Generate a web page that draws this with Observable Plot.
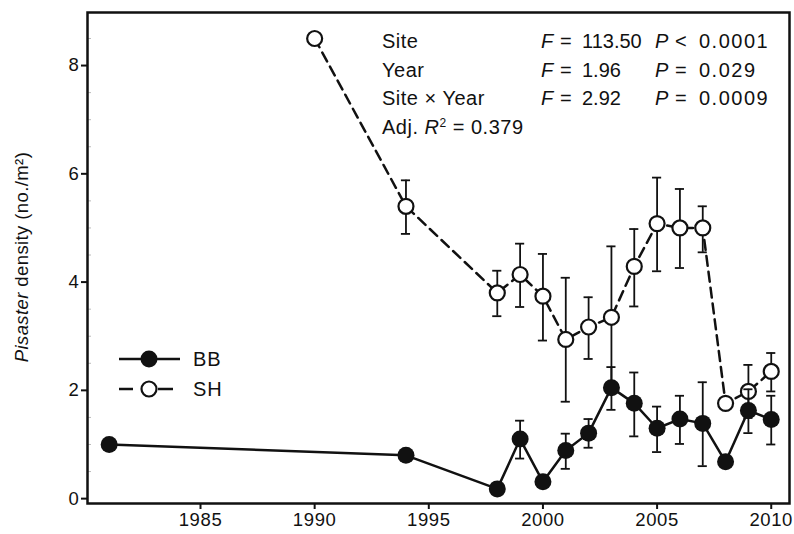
<!DOCTYPE html>
<html><head><meta charset="utf-8">
<script src="https://cdn.jsdelivr.net/npm/d3@7"></script>
<script src="https://cdn.jsdelivr.net/npm/@observablehq/plot@0.6"></script>
<style>
body{margin:0;background:#fff;}
#chart{position:relative;width:794px;height:534px;}
#chart svg{font-family:"Liberation Sans",Arial,sans-serif;}
</style></head><body><div id="chart"></div>
<script>
// BB site (filled circles, solid line)
const bbYears = [1981, 1994, 1998, 1999, 2000, 2001, 2002, 2003, 2004, 2005, 2006, 2007, 2008, 2009, 2010];
const bbMean  = [1.00, 0.80, 0.18, 1.10, 0.31, 0.89, 1.21, 2.05, 1.76, 1.30, 1.47, 1.39, 0.68, 1.63, 1.46];
const bbLow   = [null, null, null, 0.74, null, 0.55, 0.94, 1.64, 1.15, 0.86, 1.01, 0.60, null, 1.21, 1.00];
const bbHigh  = [null, null, null, 1.44, null, 1.20, 1.47, 2.43, 2.33, 1.70, 1.90, 2.15, null, 2.02, 1.90];
// SH site (open circles, dashed line)
const shYears = [1990, 1994, 1998, 1999, 2000, 2001, 2002, 2003, 2004, 2005, 2006, 2007, 2008, 2009, 2010];
const shMean  = [8.50, 5.40, 3.80, 4.14, 3.74, 2.94, 3.17, 3.35, 4.29, 5.08, 5.00, 5.00, 1.76, 1.98, 2.35];
const shLow   = [null, 4.89, 3.37, 3.54, 2.92, 1.79, 2.58, 2.05, 3.55, 4.20, 4.26, 4.55, null, 1.49, 1.98];
const shHigh  = [null, 5.88, 4.21, 4.71, 4.52, 4.08, 3.72, 4.66, 4.98, 5.93, 5.72, 5.40, null, 2.47, 2.69];

const xTicks = [1985, 1990, 1995, 2000, 2005, 2010];
const yTicks = [0, 2, 4, 6, 8];
const yMinorTicks = [0.5, 1, 1.5, 2.5, 3, 3.5, 4.5, 5, 5.5, 6.5, 7, 7.5, 8.5];

const statsLabels = ["Site", "Year", "Site \u00d7 Year"];
const statsF = ["113.50", "1.96", "2.92"];
const statsPop = ["<", "=", "="];
const statsP = ["0.0001", "0.029", "0.0009"];
const adjR2 = "0.379";
const legendNames = ["BB", "SH"];

const toRows = (years, mean, lo, hi) => years.map((y, i) => ({year: y, v: mean[i], lo: lo[i], hi: hi[i]}));
const BB = toRows(bbYears, bbMean, bbLow, bbHigh);
const SH = toRows(shYears, shMean, shLow, shHigh);
const BBe = BB.filter(d => d.hi != null);
const SHe = SH.filter(d => d.hi != null);
const capHalf = 0.2;

function errMarks(data) {
  return [
    Plot.ruleX(data, {x: "year", y1: "lo", y2: "hi", stroke: "#111", strokeWidth: 1.8}),
    Plot.ruleY(data, {y: "hi", x1: d => d.year - capHalf, x2: d => d.year + capHalf, stroke: "#111", strokeWidth: 1.8}),
    Plot.ruleY(data, {y: "lo", x1: d => d.year - capHalf, x2: d => d.year + capHalf, stroke: "#111", strokeWidth: 1.8})
  ];
}

const chart = Plot.plot({
  width: 794, height: 534,
  marginLeft: 87, marginRight: 5, marginTop: 12, marginBottom: 31,
  style: {fontFamily: "'Liberation Sans', Arial, sans-serif", color: "#111", background: "#fff"},
  x: {domain: [1980.05, 2010.8]},
  y: {domain: [-0.09, 8.98]},
  marks: [
    Plot.axisX({ticks: xTicks, tickFormat: d => String(d), tickSize: 6, tickPadding: 3, strokeWidth: 2, fontSize: 18.5, label: null}),
    Plot.axisY({ticks: yTicks, tickSize: 6, tickPadding: 2, strokeWidth: 2, fontSize: 18.5, label: null}),
    Plot.axisY({ticks: yMinorTicks, tickSize: 4, dx: 4, tickFormat: () => "", stroke: "#bbb", strokeWidth: 1, label: null}),
    Plot.line(SH, {x: "year", y: "v", stroke: "#111", strokeWidth: 2.5, strokeDasharray: "10,6"}),
    ...errMarks(SHe),
    Plot.dot(SH, {x: "year", y: "v", r: 7.5, fill: "#fff", stroke: "#111", strokeWidth: 2.2}),
    Plot.line(BB, {x: "year", y: "v", stroke: "#111", strokeWidth: 2.5}),
    ...errMarks(BBe),
    Plot.dot(BB, {x: "year", y: "v", r: 8.5, fill: "#111"}),
    Plot.frame({stroke: "#111", strokeWidth: 2.5})
  ]
});
document.getElementById("chart").appendChild(chart);

const svg = d3.select(chart);
svg.selectAll("g[aria-label='x-axis tick label'] text, g[aria-label='y-axis tick label'] text").style("letter-spacing", "0.6px");

// y-axis title
const yl = svg.append("text").attr("transform", "translate(28,257) rotate(-90)")
  .attr("text-anchor", "middle").attr("font-size", 18.5).attr("fill", "#111").style("letter-spacing", "0.4px");
yl.append("tspan").attr("font-style", "italic").text("Pisaster");
yl.append("tspan").text(" density (no./m\u00b2)");

// statistics block
const st = svg.append("g").attr("font-size", 20).attr("fill", "#111").attr("text-anchor", "start").style("letter-spacing", "0.5px");
const rowY0 = 48, rowStep = 28.5;
statsLabels.forEach((lab, i) => {
  const y = rowY0 + i * rowStep;
  st.append("text").attr("x", 382).attr("y", y).text(lab);
  st.append("text").attr("x", 541).attr("y", y).attr("font-style", "italic").text("F");
  st.append("text").attr("x", 560).attr("y", y).text("=");
  st.append("text").attr("x", 582).attr("y", y).style("letter-spacing", "0px").text(statsF[i]);
  st.append("text").attr("x", 655).attr("y", y).attr("font-style", "italic").text("P");
  st.append("text").attr("x", 675).attr("y", y).text(statsPop[i]);
  st.append("text").attr("x", 699).attr("y", y).style("letter-spacing", "1.5px").text(statsP[i]);
});
const adj = st.append("text").attr("x", 382).attr("y", rowY0 + 3 * rowStep);
adj.append("tspan").text("Adj. ");
adj.append("tspan").attr("font-style", "italic").text("R");
adj.append("tspan").attr("font-size", 12).attr("dy", -7).text("2");
adj.append("tspan").attr("dy", 7).text(" = " + adjR2);

// legend
const lg = svg.append("g").attr("transform", "translate(119,359)").attr("text-anchor", "start");
legendNames.forEach((name, i) => {
  const open = i === 1;
  const g = lg.append("g").attr("transform", `translate(0,${i * 30})`);
  g.append("line").attr("x1", 0).attr("x2", open ? 54 : 61).attr("stroke", "#111").attr("stroke-width", 2.5)
    .attr("stroke-dasharray", open ? "14,25,15,100" : null);
  g.append("circle").attr("cx", 30).attr("r", open ? 7.5 : 8.5).attr("fill", open ? "#fff" : "#111")
    .attr("stroke", "#111").attr("stroke-width", open ? 2.2 : 0);
  g.append("text").attr("x", 74).attr("y", 7).attr("font-size", 20).attr("fill", "#111")
    .style("letter-spacing", "0.8px").text(name);
});
</script></body></html>
